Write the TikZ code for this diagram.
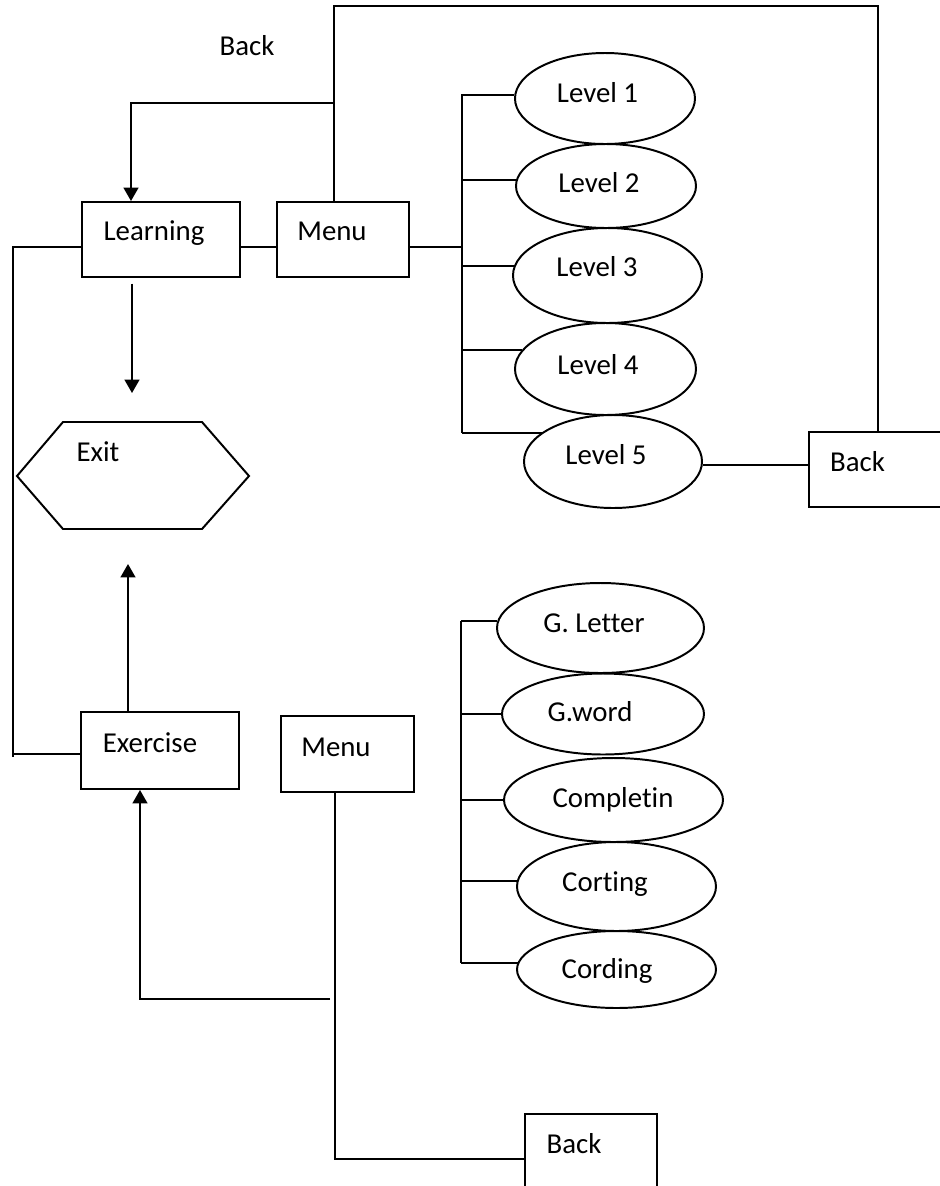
\documentclass[tikz,border=0pt]{standalone}
\usepackage{fontspec}
\setmainfont{Carlito}[Ligatures=CommonOff]
\usetikzlibrary{arrows.meta,shapes.geometric}
\newcommand{\pxu}{0.025cm}
\tikzset{
  box/.style={draw, line width=1.4pt, inner sep=0pt},
  oval/.style={draw, ellipse, line width=1.4pt, inner sep=0pt},
  lbl/.style={inner sep=0pt, anchor=base, yshift=-6.6pt, font=\fontsize{20.5}{24}\selectfont},
  wire/.style={line width=1.4pt},
  arr/.style={wire, -{Triangle[width=10.5pt,length=9.5pt]}}
}
\begin{document}
\begin{tikzpicture}[x=0.025cm, y=-0.025cm]
            \useasboundingbox (0,0) rectangle (940,1186);
            % Boxes
            \foreach \n/\cx/\cy/\w/\h/\tx/\ty/\txt in {learn/161/239.5/158/75/154/231/Learning,
                menu1/343/239.5/132/75/332/231/Menu,
                exer/160/750.5/158/77/150/743/Exercise,
                menu2/347.5/754/133/76/336/747/Menu,
                back1/884.5/469.5/151/75/857.5/462/Back,
                back2/591/1151.5/132/75/574/1144/Back} {
                \node[box, minimum width=\w*\pxu, minimum height=\h*\pxu] (\n) at (\cx,\cy) {};
                \node[lbl] (\n-t) at (\tx,\ty) {\txt};
            }
            \node[lbl] (backtop) at (247,46) {Back};
            % Exit
            \draw[wire] (17,476) -- (63,422) -- (202,422) -- (249,476) -- (202,529) -- (63,529) -- cycle;
            \node[lbl] (exit-t) at (98,452) {Exit};
            % Levels
            \coordinate (busA) at (462,94);
            \coordinate (busAend) at (462,433);
            \draw[wire] (busA) -- (busAend);
            \foreach \n/\cx/\cy/\rx/\ry/\tx/\ty/\ang/\txt in {lv1/605/98.5/90/45.5/597.5/93/178/Level 1,
                lv2/606/186/90/42/599/183/176/Level 2,
                lv3/607.5/275.5/94.5/47.5/597/267/174/Level 3,
                lv4/605.5/369/90.5/46/598/365/167/Level 4,
                lv5/613/461.5/89/46.5/606/455/158/Level 5} {
                \node[oval, minimum width=2*\rx*\pxu, minimum height=2*\ry*\pxu] (\n) at (\cx,\cy) {};
                \node[lbl] (\n-t) at (\tx,\ty) {\txt};
                \draw[wire] (busA |- \n.\ang) -- (\n.\ang);
            }
            % Games
            \coordinate (busB) at (461,621);
            \coordinate (busBend) at (461,963);
            \draw[wire] (busB) -- (busBend);
            \foreach \n/\cx/\cy/\rx/\ry/\tx/\ty/\ang/\txt in {g1/600.5/628/103.5/45/594/623/176/G. Letter,
                g2/603/714/101/40.5/590/712/180/G.word,
                g3/613.5/800/109.5/42/613/798/180/Completin,
                g4/616.5/886.5/99.5/44.5/605/882/177/Corting,
                g5/616.5/969.5/99.5/38.5/607/969/176/Cording} {
                \node[oval, minimum width=2*\rx*\pxu, minimum height=2*\ry*\pxu] (\n) at (\cx,\cy) {};
                \node[lbl] (\n-t) at (\tx,\ty) {\txt};
                \draw[wire] (busB |- \n.\ang) -- (\n.\ang);
            }
            % Links
            \coordinate (rowA) at (0,247);
            \coordinate (rowB) at (0,754);
            \draw[wire] (learn.east |- rowA) -- (menu1.west |- rowA);
            \draw[wire] (menu1.east |- rowA) -- (busA |- rowA);
            \draw[wire] (lv5.358) -- (back1.west |- lv5.358);
            \coordinate (topR) at (878,6);
            \coordinate (topL) at (334,6);
            \coordinate (split) at (334,103);
            \coordinate (dropL) at (131,103);
            \draw[wire] (back1.north -| topR) -- (topR) -- (topL) -- (topL |- menu1.north);
            \draw[arr] (split) -- (dropL) -- (dropL |- learn.north);
            \coordinate (busL) at (13,246);
            \coordinate (busLend) at (13,757);
            \draw[wire] (busL) -- (busLend);
            \draw[wire] (busL |- rowA) -- (learn.west |- rowA);
            \draw[wire] (busL |- rowB) -- (exer.west |- rowB);
            \coordinate (exitIn) at (132,393);
            \coordinate (exitIn2) at (128,564);
            \draw[arr, shorten <=4pt] (exitIn |- learn.south) -- (exitIn);
            \draw[arr] (exitIn2 |- exer.north) -- (exitIn2);
            \coordinate (drop2) at (335,1159);
            \coordinate (join2) at (330,999);
            \coordinate (turn2) at (140,999);
            \draw[wire] (drop2 |- menu2.south) -- (drop2) -- (back2.west |- drop2);
            \draw[arr] (join2) -- (turn2) -- (turn2 |- exer.south);
\end{tikzpicture}
\end{document}
